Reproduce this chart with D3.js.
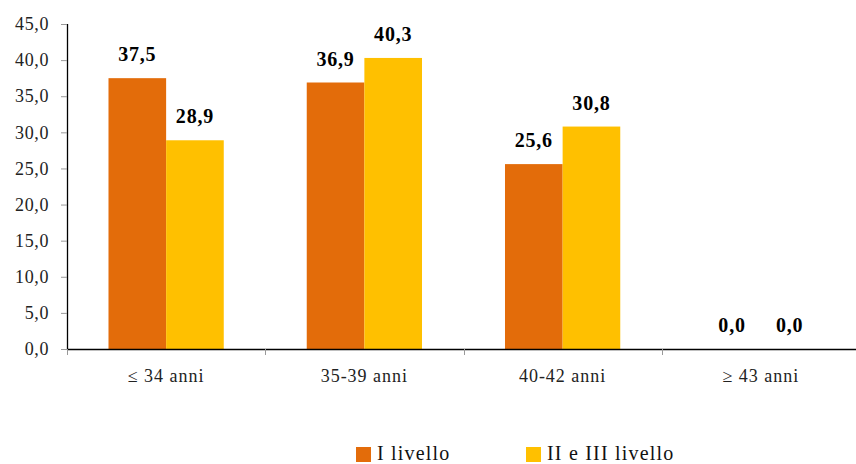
<!DOCTYPE html>
<html>
<head>
<meta charset="utf-8">
<script src="https://cdn.jsdelivr.net/npm/d3@7"></script>
<style>
  body { margin: 0; background: #fff; }
  svg { display: block; }
  svg text { font-family: "Liberation Serif", "Times New Roman", serif !important; }
</style>
</head>
<body>
<svg id="chart" width="856" height="464"></svg>
<script>
const categories = ["≤ 34 anni", "35-39 anni", "40-42 anni", "≥ 43 anni"];
const seriesNames = ["I livello", "II e III livello"];
const livelloI = [37.5, 36.9, 25.6, 0.0];
const livelloIIeIII = [28.9, 40.3, 30.8, 0.0];
const yTicks = [0, 5, 10, 15, 20, 25, 30, 35, 40, 45];
const colors = ["#E36C0A", "#FFC000"];

(function () {
const svg = d3.select("#chart");
const plotLeft = 67, plotRight = 860, plotTop = 24, plotBottom = 349;

const x = d3.scaleBand().domain(categories).range([plotLeft, plotRight]).paddingInner(0).paddingOuter(0);
const xs = d3.scaleBand().domain(seriesNames).range([0, x.bandwidth()]).paddingInner(0).paddingOuter(0.72);
const y = d3.scaleLinear().domain([0, 45]).range([plotBottom, plotTop]);
const fmt = v => v.toFixed(1).replace(".", ",");

const rows = categories.map((c, i) => ({ cat: c, vals: [livelloI[i], livelloIIeIII[i]] }));

// bars and value labels
const g = svg.append("g");
rows.forEach(r => {
  r.vals.forEach((v, j) => {
    g.append("rect")
      .attr("x", x(r.cat) + xs(seriesNames[j]))
      .attr("y", y(v))
      .attr("width", xs.bandwidth())
      .attr("height", y(0) - y(v))
      .attr("fill", colors[j]);
    g.append("text")
      .attr("x", x(r.cat) + xs(seriesNames[j]) + xs.bandwidth() / 2)
      .attr("y", y(v) - 17)
      .attr("text-anchor", "middle")
      .attr("font-size", 20)
      .attr("font-weight", "bold")
      .attr("letter-spacing", 0.8)
      .attr("fill", "#000")
      .text(fmt(v));
  });
});

// y axis
const yAxis = d3.axisLeft(y).tickValues(yTicks).tickFormat(fmt).tickSize(6).tickPadding(12);
const ya = svg.append("g").attr("transform", `translate(${plotLeft},0)`).call(yAxis)
  .attr("font-size", 18);
ya.select(".domain").attr("stroke", "#000").attr("stroke-width", 1.3).attr("d", `M0.5,${plotTop}V${plotBottom}`);
ya.selectAll(".tick line").attr("stroke", "#999");
ya.selectAll(".tick text").attr("fill", "#222").attr("letter-spacing", 0.6);

// x axis with group separators
const bounds = categories.map(c => x(c)).concat([plotRight]);
const xa = svg.append("g");
xa.append("line").attr("x1", plotLeft).attr("x2", plotRight).attr("y1", plotBottom + 0.5).attr("y2", plotBottom + 0.5)
  .attr("stroke", "#000").attr("stroke-width", 1.5);
xa.selectAll("line.tk").data(bounds).join("line").attr("class", "tk")
  .attr("x1", d => Math.round(d) + 0.5).attr("x2", d => Math.round(d) + 0.5)
  .attr("y1", plotBottom).attr("y2", plotBottom + 6).attr("stroke", "#999");
xa.selectAll("text").data(categories).join("text")
  .attr("x", d => x(d) + x.bandwidth() / 2)
  .attr("y", plotBottom + 33)
  .attr("text-anchor", "middle")
  .attr("font-size", 18)
  .attr("letter-spacing", 1)
  .attr("fill", "#222")
  .text(d => d);

// legend
const legendX = [356, 526];
const lg = svg.append("g");
seriesNames.forEach((s, j) => {
  lg.append("rect").attr("x", legendX[j]).attr("y", 447).attr("width", 15).attr("height", 15).attr("fill", colors[j]);
  lg.append("text").attr("x", legendX[j] + 21).attr("y", 460).attr("font-size", 20)
    .attr("letter-spacing", 1.2).attr("fill", "#111").text(s);
});
})();
</script>
</body>
</html>
